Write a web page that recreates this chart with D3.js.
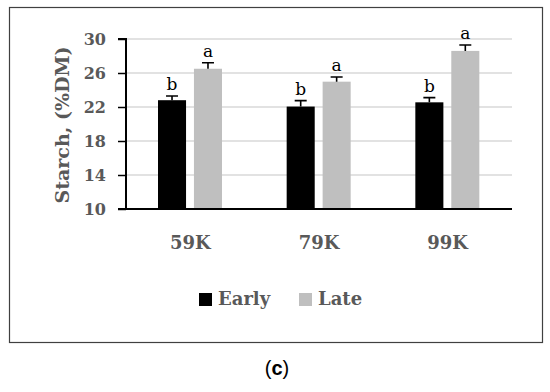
<!DOCTYPE html>
<html><head><meta charset="utf-8">
<script src="https://cdn.jsdelivr.net/npm/d3@7"></script>
<style>body{margin:0;background:#fff}svg{display:block}</style>
</head><body><svg id="c" width="550" height="392"></svg>
<script>
const categories = ["59K", "79K", "99K"];
const series = ["Early", "Late"];
const earlyValues = [22.8, 22.05, 22.55];
const lateValues = [26.5, 24.98, 28.6];
const earlyErr = [0.5, 0.7, 0.55];
const lateErr = [0.7, 0.55, 0.7];
const earlyLetters = ["b", "b", "b"];
const lateLetters = ["a", "a", "a"];
const yTicks = [10, 14, 18, 22, 26, 30];
const colors = {Early: "#000000", Late: "#bfbfbf"};

const data = categories.map((c, i) => ({cat: c, vals: [
  {s: "Early", v: earlyValues[i], e: earlyErr[i], l: earlyLetters[i]},
  {s: "Late", v: lateValues[i], e: lateErr[i], l: lateLetters[i]}]}));

const svg = d3.select("#c");
const textGrey = "#595959";
const serif = "'DejaVu Serif', serif";

// outer frame
svg.append("rect").attr("x", 9.5).attr("y", 7.5).attr("width", 533).attr("height", 335)
  .attr("fill", "none").attr("stroke", "#404040").attr("stroke-width", 1.2);

const pLeft = 126, pRight = 512, pTop = 39, pBottom = 209;
const y = d3.scaleLinear().domain([10, 30]).range([pBottom, pTop]);
const x0 = d3.scaleBand().domain(categories).range([pLeft, pRight]).padding(0);
const x1 = d3.scaleBand().domain(series).range([32, 96]).paddingInner(0.22).paddingOuter(0);

// gridlines
svg.append("g").selectAll("line").data(yTicks.filter(t => t > 10)).join("line")
  .attr("x1", pLeft).attr("x2", pRight).attr("y1", d => y(d)).attr("y2", d => y(d))
  .attr("stroke", "#d9d9d9").attr("stroke-width", 1.5);

// y axis
const yAxis = svg.append("g").attr("transform", `translate(${pLeft},0)`)
  .call(d3.axisLeft(y).tickValues(yTicks).tickSize(8).tickPadding(12));
yAxis.select(".domain").attr("stroke", "#000").attr("stroke-width", 2).attr("d", `M-8,${pTop}H0V${pBottom}`);
yAxis.selectAll(".tick line").attr("stroke", "#000").attr("stroke-width", 1.5);
yAxis.selectAll(".tick text").attr("fill", textGrey).attr("font-family", serif)
  .attr("font-weight", "bold").attr("font-size", 16).attr("dy", "0.36em");

// bars
const groups = svg.append("g").selectAll("g").data(data).join("g")
  .attr("transform", d => `translate(${x0(d.cat)},0)`);
groups.selectAll("rect").data(d => d.vals).join("rect")
  .attr("x", d => x1(d.s)).attr("width", x1.bandwidth())
  .attr("y", d => y(d.v)).attr("height", d => y(10) - y(d.v))
  .attr("fill", d => colors[d.s]);
// error bars
groups.selectAll("path.err").data(d => d.vals).join("path").attr("class", "err")
  .attr("d", d => {
    const cx = x1(d.s) + x1.bandwidth() / 2;
    return `M${cx},${y(d.v)}V${y(d.v + d.e)}M${cx - 6},${y(d.v + d.e)}H${cx + 6}`;
  })
  .attr("stroke", "#000").attr("stroke-width", 1.6).attr("fill", "none");
// letters
groups.selectAll("text.lt").data(d => d.vals).join("text").attr("class", "lt")
  .attr("x", d => x1(d.s) + x1.bandwidth() / 2)
  .attr("y", d => y(d.v + d.e) - 6)
  .attr("text-anchor", "middle").attr("font-family", serif).attr("font-size", 17)
  .attr("fill", "#000").text(d => d.l);

// x axis line
svg.append("line").attr("x1", pLeft - 8).attr("x2", pRight).attr("y1", pBottom).attr("y2", pBottom)
  .attr("stroke", "#000").attr("stroke-width", 2);

// x labels
svg.append("g").selectAll("text").data(categories).join("text")
  .attr("x", d => x0(d) + x0.bandwidth() / 2).attr("y", 249)
  .attr("text-anchor", "middle").attr("font-family", serif).attr("font-weight", "bold")
  .attr("font-size", 18).attr("fill", textGrey).text(d => d);

// y title
svg.append("text").attr("transform", "translate(69,125) rotate(-90)")
  .attr("text-anchor", "middle").attr("font-family", serif).attr("font-weight", "bold")
  .attr("font-size", 19).attr("fill", textGrey).text("Starch, (%DM)");

// legend
const legendX = [199, 299];
const lg = svg.append("g").selectAll("g").data(series).join("g")
  .attr("transform", (d, i) => `translate(${legendX[i]},293)`);
lg.append("rect").attr("width", 13).attr("height", 13).attr("fill", d => colors[d]);
lg.append("text").attr("x", 19).attr("y", 12).attr("font-family", serif).attr("font-weight", "bold")
  .attr("font-size", 18).attr("fill", textGrey).text(d => d);

// caption
const cap = svg.append("text").attr("x", 277).attr("y", 375).attr("text-anchor", "middle")
  .attr("font-family", "'Liberation Sans', Arial, sans-serif").attr("font-size", 20).attr("fill", "#000");
cap.append("tspan").text("(");
cap.append("tspan").attr("font-weight", "bold").text("c");
cap.append("tspan").text(")");
</script></body></html>
